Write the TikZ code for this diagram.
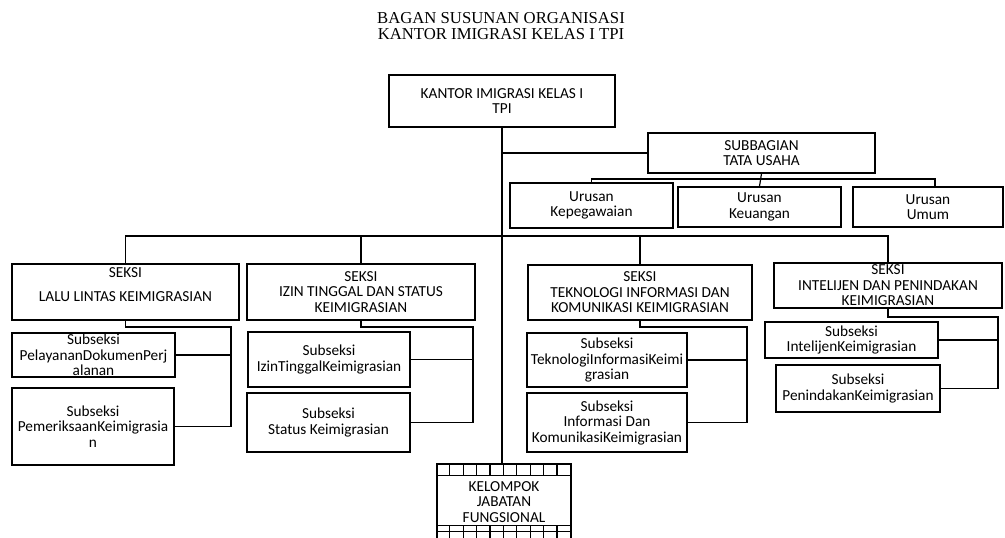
\documentclass[tikz,border=0pt]{standalone}
\usepackage{fontspec}
\setmainfont{Carlito}
\newfontfamily\titlefont{Liberation Serif}

\begin{document}
\begin{tikzpicture}[x=1pt,y=-1pt,
  box/.style={draw,line width=1.4pt,inner sep=0pt,align=center,font=\fontsize{15.3}{15.5}\selectfont},
  link/.style={line width=1.2pt}]
\useasboundingbox (0,0) rectangle (1005,538);
% judul
\node[align=center,font=\titlefont\fontsize{16.7}{16}\selectfont] (judul) at (501,26) {BAGAN SUSUNAN ORGANISASI\\KANTOR IMIGRASI KELAS I TPI};
% kepala kantor dan tata usaha
\node[box,minimum width=226pt,minimum height=52pt] (kantor) at (502,101) {KANTOR IMIGRASI KELAS I\\TPI};
\node[box,minimum width=227pt,minimum height=40pt] (tu) at (761.5,153) {SUBBAGIAN\\TATA USAHA};
\node[box,minimum width=163pt,minimum height=45pt] (peg) at (591.5,205.5) {Urusan\\Kepegawaian};
\node[box,minimum width=163pt,minimum height=40pt] (keu) at (759.5,207) {Urusan\\Keuangan};
\node[box,minimum width=150pt,minimum height=40pt] (umum) at (928,207) {Urusan\\Umum};
% seksi
\node[box,minimum width=227pt,minimum height=56pt] (lalu) at (125.5,292) {SEKSI\\[8.5pt]LALU LINTAS KEIMIGRASIAN\\[-1.5pt]\mbox{}};
\node[box,minimum width=228pt,minimum height=56pt] (izin) at (361,292) {SEKSI\\IZIN TINGGAL DAN STATUS\\KEIMIGRASIAN};
\node[box,minimum width=224pt,minimum height=55pt] (tik) at (640,292.5) {SEKSI\\TEKNOLOGI INFORMASI DAN\\KOMUNIKASI KEIMIGRASIAN};
\node[box,minimum width=228pt,minimum height=45pt] (intel) at (888,285.5) {SEKSI\\INTELIJEN DAN PENINDAKAN\\KEIMIGRASIAN};
% subseksi
\node[box,minimum width=163pt,minimum height=44pt] (pelayanan) at (93.5,355) {Subseksi\\PelayananDokumenPerj\\alanan};
\node[box,minimum width=162pt,minimum height=77pt] (periksa) at (93,426.5) {Subseksi\\PemeriksaanKeimigrasia\\n};
\node[box,minimum width=162pt,minimum height=55pt] (izintinggal) at (329,359.5) {Subseksi\\IzinTinggalKeimigrasian};
\node[box,minimum width=163pt,minimum height=59pt] (status) at (328.5,422.5) {Subseksi\\Status Keimigrasian};
\node[box,minimum width=160pt,minimum height=54pt] (tekinfo) at (607,360) {Subseksi\\TeknologiInformasiKeimi\\grasian};
\node[box,minimum width=160pt,minimum height=59pt] (infokom) at (607,422.5) {Subseksi\\Informasi Dan\\KomunikasiKeimigrasian};
\node[box,minimum width=173pt,minimum height=36pt] (intelsub) at (851.5,340) {Subseksi\\IntelijenKeimigrasian};
\node[box,minimum width=164pt,minimum height=47pt] (tindak) at (858,388.5) {Subseksi\\PenindakanKeimigrasian};
% kelompok jabatan fungsional
\node[box,minimum width=134pt,minimum height=76pt] (fungsi) at (504,502) {KELOMPOK\\JABATAN\\FUNGSIONAL};
\draw[link] ([yshift=-12pt]fungsi.north west) -- ([yshift=-12pt]fungsi.north east);
\draw[link] ([yshift=-62pt]fungsi.north west) -- ([yshift=-62pt]fungsi.north east);
\draw[link] ([yshift=-68pt]fungsi.north west) -- ([yshift=-68pt]fungsi.north east);
\foreach \i in {1,...,9}{
  \draw[link] ([xshift=\i*13.4pt]fungsi.north west) -- ++(0,12);
  \draw[link] ([xshift=\i*13.4pt,yshift=-62pt]fungsi.north west) -- ++(0,14);
}
% garis
\coordinate (urbus) at (761,179);
\coordinate (bus) at (502,236);
\coordinate (laluR) at (231,327);
\coordinate (izinR) at (473,327);
\coordinate (tikR) at (747,327);
\coordinate (intelR) at (998,317);
\draw[link] (kantor.south) -- (kantor.south |- fungsi.north);
\draw[link] (kantor.south |- tu.west) -- (tu.west);
\draw[link] (tu.south) -- (keu.north);
\draw[link] (peg.north) |- (urbus) -| ([xshift=7pt]umum.north);
\draw[link] (lalu.north) |- (bus) -| (intel.north);
\draw[link] (izin.north) -- (izin.north |- bus);
\draw[link] (tik.north) -- (tik.north |- bus);
\draw[link] (lalu.south) |- (laluR) |- (periksa.east);
\draw[link] (pelayanan.east) -- (pelayanan.east -| laluR);
\draw[link] (izin.south) |- (izinR) |- (status.east);
\draw[link] (izintinggal.east) -- (izintinggal.east -| izinR);
\draw[link] (tik.south) |- (tikR) |- (infokom.east);
\draw[link] (tekinfo.east) -- (tekinfo.east -| tikR);
\draw[link] (intel.south) |- (intelR) |- (tindak.east);
\draw[link] (intelsub.east) -- (intelsub.east -| intelR);
\end{tikzpicture}
\end{document}
